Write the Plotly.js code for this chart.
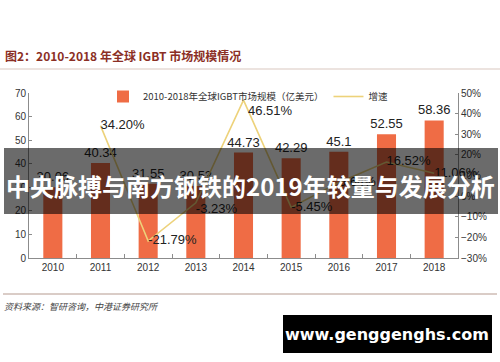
<!DOCTYPE html>
<html>
<head>
<meta charset="utf-8">
<script src="https://cdn.plot.ly/plotly-3.0.1.min.js"></script>
<style>html,body{margin:0;padding:0;background:#fff;}#chart{width:500px;height:362px;}</style>
</head>
<body>
<div id="chart"></div>
<script>
const years = ['2010', '2011', '2012', '2013', '2014', '2015', '2016', '2017', '2018'];
const marketSize = [30.06, 40.34, 31.55, 30.53, 44.73, 42.29, 45.1, 52.55, 58.36];
const growth = [null, 0.3420, -0.2179, -0.0323, 0.4651, -0.0545, 0.0664, 0.1652, 0.1106];
const growthTextPos = ['middle right', 'middle right', 'middle right', 'bottom right', 'bottom right', 'middle right', 'middle right', 'middle right', 'middle right'];
const seriesNames = ['2010-2018年全球IGBT市场规模（亿美元）', '增速'];
const titleText = '图2：2010-2018 年全球 IGBT 市场规模情况';
const bannerText = '中央脉搏与南方钢铁的2019年较量与发展分析';
const sourceText = '资料来源：智研咨询，中港证券研究所';
const watermarkText = 'www.genggenghs.com';

// plot area in pixels
const L = 29, R = 458, T = 93, B = 258;
const px = x => (x - L) / (R - L);
const py = y => (B - y) / (B - T);

const numFont = 'Liberation Sans, Arial, sans-serif';
const cjk = 'Noto Sans CJK SC, sans-serif';

// the 2014 growth label sits a little lower than plotly's standard offset: draw it as an annotation
const peakIdx = 4;
const growthTemplates = years.map((_, i) => i === peakIdx ? '' : '%{y:.2%}');

const traces = [
  {
    type: 'bar', x: years, y: marketSize, name: seriesNames[0],
    marker: {color: '#EF6C45'},
    texttemplate: '%{y}', textposition: 'outside', cliponaxis: false, constraintext: 'none',
    textfont: {family: numFont, size: 13, color: '#222'},
    width: 0.4, hoverinfo: 'none'
  },
  {
    type: 'scatter', mode: 'lines+text', x: years, y: growth, yaxis: 'y2', name: seriesNames[1],
    line: {color: '#EDD27A', width: 1.6},
    texttemplate: growthTemplates, textposition: growthTextPos, cliponaxis: false,
    textfont: {family: numFont, size: 13, color: '#222'},
    hoverinfo: 'none'
  }
];

const axisCommon = {
  showline: true, linecolor: '#8c8c8c', linewidth: 1,
  ticks: 'inside', tickcolor: '#8c8c8c', showgrid: false, zeroline: false,
  tickfont: {family: numFont, size: 10, color: '#333'}
};

const layout = {
  width: 500, height: 362,
  margin: {l: L, r: 500 - R, t: T, b: 362 - B, pad: 0, autoexpand: false},
  paper_bgcolor: '#fff', plot_bgcolor: '#fff',
  showlegend: true,
  title: {
    text: '<b>' + titleText + '</b>',
    font: {family: cjk, size: 12, color: '#8B2F25'},
    xref: 'container', x: 5 / 500, xanchor: 'left',
    yref: 'container', y: 1 - 57 / 362, yanchor: 'middle', automargin: false
  },
  legend: {
    orientation: 'h', xref: 'paper', yref: 'paper',
    x: px(103), xanchor: 'left', y: py(82), yanchor: 'top',
    font: {family: cjk, size: 9.5, color: '#333'},
    bgcolor: 'rgba(0,0,0,0)', itemwidth: 30, traceorder: 'normal', tracegroupgap: 0
  },
  xaxis: Object.assign({}, axisCommon, {type: 'category', tickson: 'boundaries', ticklen: 4, range: [-0.5, 8.5]}),
  yaxis: Object.assign({}, axisCommon, {range: [0, 70], dtick: 10, ticklen: 3}),
  yaxis2: Object.assign({}, axisCommon, {overlaying: 'y', side: 'right', range: [-0.3, 0.5], dtick: 0.1, tickformat: '.0%', ticklen: 3}),
  bargap: 0.6,
  shapes: [
    {type: 'line', xref: 'paper', yref: 'paper', x0: px(0), x1: px(500), y0: py(69), y1: py(69), line: {color: '#d9c7bf', width: 1}},
    {type: 'line', xref: 'paper', yref: 'paper', x0: px(3), x1: px(497), y0: py(294), y1: py(294), line: {color: '#b59a8f', width: 1}},
    {type: 'rect', xref: 'paper', yref: 'paper', x0: px(4), x1: px(498), y0: py(214), y1: py(148), fillcolor: 'rgba(0,0,0,0.58)', line: {width: 0}, layer: 'above'},
    {type: 'rect', xref: 'paper', yref: 'paper', x0: px(283), x1: px(492), y0: py(353), y1: py(315), fillcolor: '#000', line: {width: 0}, layer: 'above'}
  ],
  annotations: [
    {text: (growth[peakIdx] * 100).toFixed(2) + '%', xref: 'x', yref: 'y2', x: peakIdx, y: growth[peakIdx],
     xanchor: 'left', yanchor: 'middle', xshift: 2, yshift: -10, showarrow: false,
     font: {family: numFont, size: 13, color: '#222'}},
    {text: '<b>' + bannerText + '</b>', xref: 'paper', yref: 'paper', x: px(250), y: py(185), xanchor: 'center', yanchor: 'middle', showarrow: false,
     font: {family: cjk, size: 24, color: '#fff'}},
    {text: '<i>' + sourceText + '</i>', xref: 'paper', yref: 'paper', x: px(2), y: py(306), xanchor: 'left', yanchor: 'middle', showarrow: false,
     font: {family: cjk, size: 9, color: '#444'}},
    {text: '<b>' + watermarkText + '</b>', xref: 'paper', yref: 'paper', x: px(387), y: py(334), xanchor: 'center', yanchor: 'middle', showarrow: false,
     font: {family: 'DejaVu Sans, sans-serif', size: 16, color: '#fff'}}
  ]
};

Plotly.newPlot('chart', traces, layout, {staticPlot: true, displayModeBar: false});
</script>
</body>
</html>
